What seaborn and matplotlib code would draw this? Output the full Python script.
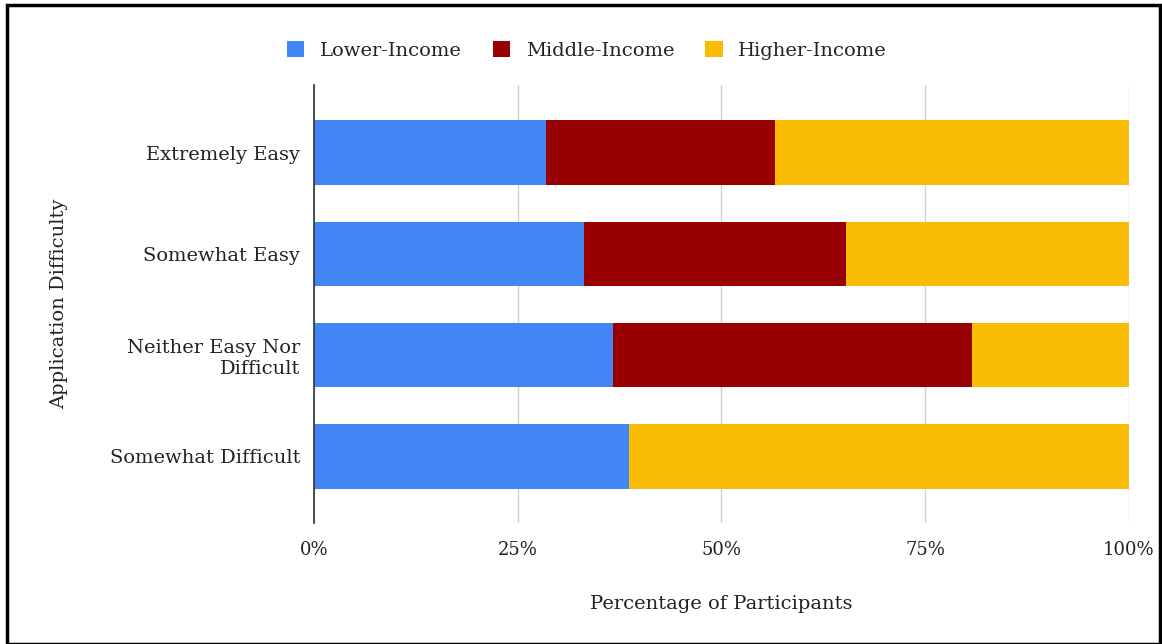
import numpy as np
import pandas as pd
import matplotlib.pyplot as plt
import seaborn as sns
from matplotlib.patches import Patch, Rectangle

categories = ["Extremely Easy", "Somewhat Easy", "Neither Easy Nor\nDifficult", "Somewhat Difficult"]
lower_income = [28.5, 33.1, 36.7, 38.7]
middle_income = [28.1, 32.2, 44.0, 0.0]
higher_income = [43.4, 34.7, 19.3, 61.3]
series_names = ["Lower-Income", "Middle-Income", "Higher-Income"]
colors = ["#4285F4", "#990000", "#FBBC04"]
x_ticks = [0, 25, 50, 75, 100]

sns.set_style("white")
plt.rcParams['font.family'] = ['DejaVu Serif']

df = pd.DataFrame({
    'category': categories,
    'Lower-Income': lower_income,
    'Middle-Income': middle_income,
    'Higher-Income': higher_income,
})
# cumulative ends so overlaid bars look stacked
df['cum_low'] = df['Lower-Income']
df['cum_mid'] = df['cum_low'] + df['Middle-Income']
df['cum_high'] = df['cum_mid'] + df['Higher-Income']

fig = plt.figure(figsize=(11.62, 6.44), dpi=100)
ax = fig.add_axes([0.2702, 0.188, 0.7014, 0.680])

for col, c in zip(['cum_high', 'cum_mid', 'cum_low'], colors[::-1]):
    sns.barplot(data=df, x=col, y='category', color=c, orient='h',
                width=0.64, saturation=1, ax=ax, linewidth=0)

ax.set_xlim(0, 100)
ax.set_ylim(3.66, -0.67)
ax.set_xticks(x_ticks)
ax.set_xticklabels([f"{t}%" for t in x_ticks], fontsize=13, color='#222222')
ax.tick_params(axis='x', length=5, color='#d0d0d0', pad=8)
ax.tick_params(axis='y', length=0, pad=10, labelsize=14, labelcolor='#222222')
ax.grid(axis='x', color='#d0d0d0', linewidth=1)
ax.set_axisbelow(True)
for s in ['top', 'right', 'bottom']:
    ax.spines[s].set_visible(False)
ax.spines['left'].set_color('#333333')
ax.spines['left'].set_linewidth(1.2)

ax.set_xlabel("Percentage of Participants", fontsize=14, color='#222222', labelpad=26)
ax.set_ylabel("Application Difficulty", fontsize=14, color='#222222', labelpad=30)

handles = [Patch(facecolor=c, edgecolor='none', label=n) for c, n in zip(colors, series_names)]
fig.legend(handles=handles, loc='center', bbox_to_anchor=(0.505, 0.922), ncol=3,
           frameon=False, fontsize=14, handlelength=0.9, handleheight=0.9,
           columnspacing=1.6, handletextpad=0.8, labelcolor='#222222')

fig.add_artist(Rectangle((0.006, 0.0), 0.992, 0.992, transform=fig.transFigure,
                         fill=False, edgecolor='black', linewidth=2.5))

plt.savefig('out.png', dpi=100)
